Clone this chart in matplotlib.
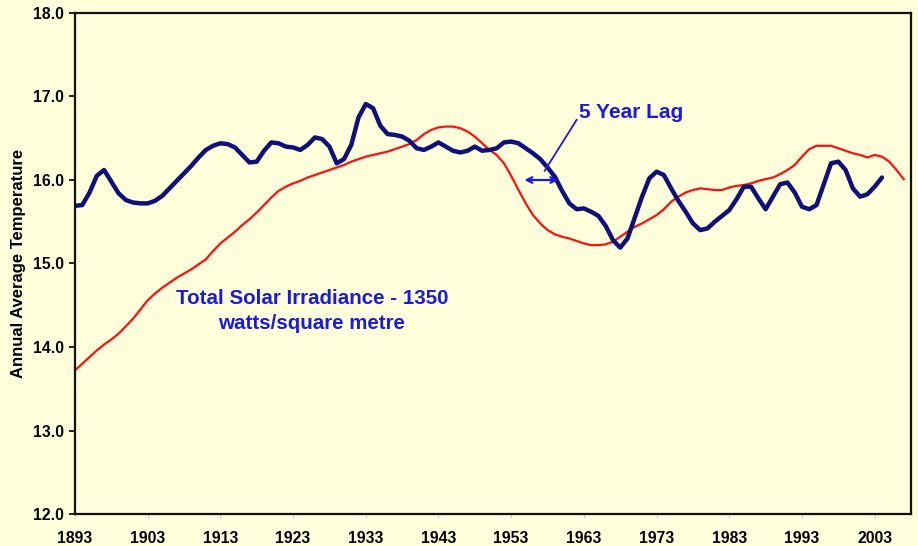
import matplotlib
matplotlib.use("Agg")
import matplotlib.pyplot as plt
import numpy as np

plt.rcParams['font.family'] = ['Liberation Sans', 'DejaVu Sans']

temp_years = list(range(1893, 2005))
temperature = [
    15.69, 15.70, 15.85, 16.05, 16.12, 15.98, 15.84, 15.76, 15.73, 15.72,
    15.72, 15.75, 15.81, 15.90, 15.99, 16.08, 16.17, 16.27, 16.36, 16.41,
    16.44, 16.43, 16.39, 16.30, 16.21, 16.22, 16.35, 16.45, 16.44, 16.40,
    16.39, 16.36, 16.42, 16.51, 16.49, 16.40, 16.20, 16.25, 16.42, 16.75,
    16.91, 16.86, 16.65, 16.55, 16.54, 16.52, 16.47, 16.38, 16.36, 16.40,
    16.45, 16.40, 16.35, 16.33, 16.35, 16.40, 16.35, 16.36, 16.38, 16.45,
    16.46, 16.44, 16.38, 16.32, 16.25, 16.15, 16.04, 15.87, 15.72, 15.65,
    15.66, 15.62, 15.57, 15.45, 15.28, 15.19, 15.30, 15.55, 15.80, 16.02,
    16.10, 16.06, 15.90, 15.75, 15.62, 15.48, 15.40, 15.42, 15.50, 15.57,
    15.64, 15.77, 15.92, 15.92, 15.78, 15.65, 15.80, 15.95, 15.97, 15.85,
    15.68, 15.65, 15.70, 15.95, 16.20, 16.22, 16.12, 15.90, 15.80, 15.83,
    15.92, 16.03,
]

tsi_years = list(range(1893, 2008))
tsi = [
    13.72, 13.80, 13.88, 13.96, 14.03, 14.09, 14.16, 14.25, 14.34, 14.45,
    14.56, 14.64, 14.71, 14.77, 14.83, 14.88, 14.93, 14.99, 15.05, 15.15,
    15.24, 15.31, 15.38, 15.46, 15.53, 15.61, 15.70, 15.79, 15.87, 15.92,
    15.96, 15.99, 16.03, 16.06, 16.09, 16.12, 16.15, 16.18, 16.22, 16.25,
    16.28, 16.30, 16.32, 16.34, 16.37, 16.40, 16.43, 16.48, 16.55, 16.60,
    16.63, 16.64, 16.64, 16.62, 16.58, 16.52, 16.44, 16.36, 16.30, 16.20,
    16.05, 15.88, 15.72, 15.58, 15.48, 15.40, 15.35, 15.32, 15.30, 15.27,
    15.24, 15.22, 15.22, 15.23, 15.26, 15.32, 15.38, 15.44, 15.48, 15.53,
    15.58, 15.65, 15.74, 15.80, 15.85, 15.88, 15.90, 15.89, 15.88, 15.88,
    15.91, 15.93, 15.94, 15.96, 15.99, 16.01, 16.03, 16.07, 16.12, 16.18,
    16.28, 16.37, 16.41, 16.41, 16.41, 16.38, 16.35, 16.32, 16.30, 16.27,
    16.30, 16.28, 16.22, 16.12, 16.01,
]

x_ticks = list(range(1893, 2004, 10))
y_ticks = [12.0, 13.0, 14.0, 15.0, 16.0, 17.0, 18.0]

bg = '#FFFFDC'
fig = plt.figure(figsize=(9.18, 5.46), dpi=100, facecolor=bg)
ax = fig.add_axes([0.0817, 0.0586, 0.9107, 0.9176])
ax.set_facecolor(bg)

ax.plot(tsi_years, tsi, color='#FF1010', lw=1.6, solid_joinstyle='round')
ax.plot(temp_years, temperature, color='#10107A', lw=3.2, solid_joinstyle='round',
        solid_capstyle='round')

ax.set_xlim(1893, 2008)
ax.set_ylim(12, 18)
ax.set_xticks(x_ticks)
ax.set_xticklabels([str(t) for t in x_ticks], fontsize=11.3, fontweight='bold')
ax.set_yticks(y_ticks)
ax.set_yticklabels([f"{t:.1f}" for t in y_ticks], fontsize=11.3, fontweight='bold')
ax.tick_params(axis='x', length=3, color='#cccccc', pad=9)
ax.tick_params(axis='y', length=4, width=1.2, color='black', pad=4)
for s in ax.spines.values():
    s.set_linewidth(1.6)
    s.set_color('#111111')

ax.set_ylabel('Annual Average Temperature', fontsize=12, fontweight='bold', labelpad=5)

txt_col = '#1A1AE6'
ax.text(1925.6, 14.43, 'Total Solar Irradiance - 1350\nwatts/square metre',
        ha='center', va='center', fontsize=14.8, fontweight='bold', color=txt_col,
        linespacing=1.38)
ax.text(1962.3, 16.81, '5 Year Lag', ha='left', va='center', fontsize=15,
        fontweight='bold', color=txt_col)
ax.plot([1962.0, 1957.6], [16.72, 16.11], color=txt_col, lw=1.3)
ax.annotate('', xy=(1954.8, 16.0), xytext=(1959.5, 16.0),
            arrowprops=dict(arrowstyle='<->', color=txt_col, lw=1.6,
                            mutation_scale=10, shrinkA=0, shrinkB=0))

fig.savefig('out.png', dpi=100, facecolor=bg)
